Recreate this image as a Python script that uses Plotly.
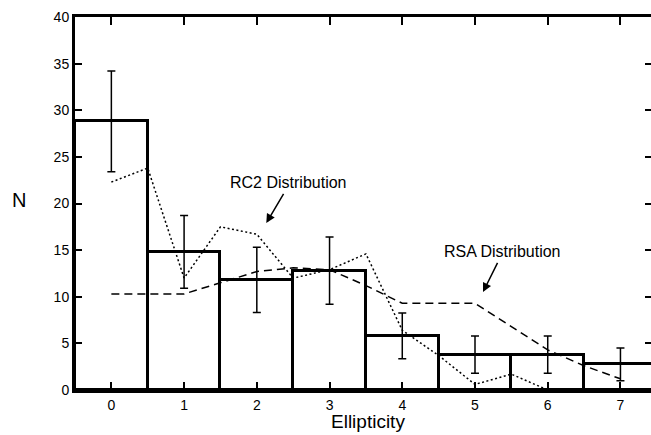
import plotly.graph_objects as go

# Data
bins = [0, 1, 2, 3, 4, 5, 6, 7]
counts = [28.8, 14.8, 11.8, 12.8, 5.8, 3.8, 3.8, 2.75]
errors = [5.4, 3.9, 3.5, 3.6, 2.45, 2.0, 2.0, 1.75]

rc2_x = [0, 0.5, 1, 1.5, 2, 2.5, 3, 3.5, 4, 4.5, 5, 5.5, 6]
rc2_y = [22.3, 23.8, 12.0, 17.5, 16.7, 12.0, 12.9, 14.6, 6.4, 3.7, 0.6, 1.7, 0.0]

rsa_x = [0, 0.5, 1, 1.5, 2, 2.5, 3, 3.5, 4, 4.5, 5, 5.5, 6, 6.5, 7]
rsa_y = [10.3, 10.3, 10.3, 11.5, 12.7, 13.1, 12.9, 11.2, 9.3, 9.3, 9.3, 6.8, 4.3, 2.6, 1.2]

x_ticks = [0, 1, 2, 3, 4, 5, 6, 7]
y_ticks = [0, 5, 10, 15, 20, 25, 30, 35, 40]

FONT = "Arial, Liberation Sans, Helvetica, sans-serif"

fig = go.Figure()

fig.add_trace(go.Bar(
    x=bins, y=counts, width=1.0,
    marker=dict(color="white", line=dict(color="black", width=3)),
    error_y=dict(type="data", array=errors, visible=True,
                 color="black", thickness=1.5, width=4),
    showlegend=False,
))

fig.add_trace(go.Scatter(
    x=rc2_x, y=rc2_y, mode="lines",
    line=dict(color="black", width=1.5, dash="2px,2.5px"),
    showlegend=False,
))

fig.add_trace(go.Scatter(
    x=rsa_x, y=rsa_y, mode="lines",
    line=dict(color="black", width=1.5, dash="8px,5px"),
    showlegend=False,
))

# helper invisible trace to render right tick axis
fig.add_trace(go.Scatter(x=[None], y=[None], yaxis="y2",
                         showlegend=False, hoverinfo="skip"))

fig.update_layout(
    width=651, height=435,
    margin=dict(l=75, r=0, t=17, b=45),
    paper_bgcolor="white", plot_bgcolor="white",
    font=dict(family=FONT, color="black", size=14),
    bargap=0,
    xaxis=dict(
        range=[-0.5, 7.42], tickvals=x_ticks, ticktext=[str(v) for v in x_ticks],
        ticks="inside", ticklen=8, tickwidth=2, tickcolor="black",
        showline=True, linewidth=3, linecolor="black", mirror="ticks",
        showgrid=False, zeroline=False,
        tickfont=dict(size=14),
    ),
    yaxis=dict(
        range=[0, 40], tickvals=y_ticks,
        ticks="inside", ticklen=7, tickwidth=1.5, tickcolor="black",
        showline=True, linewidth=3, linecolor="black",
        showgrid=False, zeroline=False,
        tickfont=dict(size=14),
    ),
    yaxis2=dict(
        overlaying="y", side="right", anchor="x", range=[0, 40],
        tickvals=y_ticks, showticklabels=False,
        ticks="inside", ticklen=6, tickwidth=1.5, tickcolor="black",
        showline=False, showgrid=False, zeroline=False,
    ),
    showlegend=False,
)

fig.add_annotation(text="N", xref="paper", yref="paper", x=-0.098, y=0.51,
                   xanchor="center", yanchor="middle", showarrow=False,
                   font=dict(size=20, family=FONT))
fig.add_annotation(text="Ellipticity", xref="paper", yref="paper", x=0.508, y=-0.118,
                   xanchor="center", yanchor="bottom", showarrow=False,
                   font=dict(size=19, family=FONT))

# Labels with arrows
fig.add_annotation(text="RC2 Distribution", x=2.43, y=22.3, xref="x", yref="y",
                   showarrow=False, font=dict(size=16, family=FONT))
fig.add_annotation(x=2.13, y=17.9, ax=2.38, ay=21.2, xref="x", yref="y",
                   axref="x", ayref="y", showarrow=True, arrowhead=2,
                   arrowsize=1.2, arrowwidth=1.5, arrowcolor="black", text="")
fig.add_annotation(text="RSA Distribution", x=5.38, y=14.8, xref="x", yref="y",
                   showarrow=False, font=dict(size=16, family=FONT))
fig.add_annotation(x=5.11, y=10.5, ax=5.32, ay=13.8, xref="x", yref="y",
                   axref="x", ayref="y", showarrow=True, arrowhead=2,
                   arrowsize=1.2, arrowwidth=1.5, arrowcolor="black", text="")

fig.write_html("out.html")
